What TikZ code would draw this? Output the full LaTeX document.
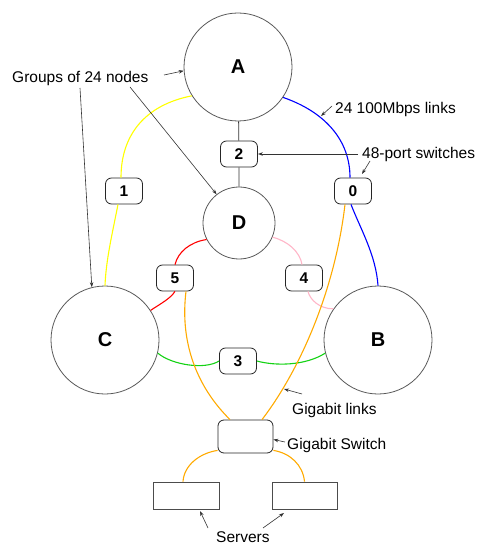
\documentclass[tikz,border=0pt]{standalone}
\usepackage{fontspec}
\setmainfont{Liberation Sans}
\usetikzlibrary{arrows.meta}
\definecolor{lpink}{RGB}{255,182,200}
\definecolor{lgreen}{RGB}{20,210,20}
\definecolor{lorange}{RGB}{255,170,0}
\definecolor{lyellow}{RGB}{255,255,0}
\begin{document}
\begin{tikzpicture}[x=1pt,y=-1pt,
  grp/.style={circle,draw=black!65,line width=0.8pt,inner sep=0pt,font=\fontsize{20}{24}\selectfont\bfseries},
  swbox/.style={rectangle,rounded corners=6pt,draw=black!85,line width=0.8pt,minimum width=37pt,minimum height=26pt,inner sep=0pt,font=\fontsize{15.5}{18}\selectfont\bfseries},
  srv/.style={rectangle,draw=black!70,line width=0.8pt,minimum height=27pt,inner sep=0pt},
  link/.style={line width=1.1pt},
  lbl/.style={anchor=base west,inner sep=0pt,font=\fontsize{15.5}{18}\selectfont},
  arr/.style={draw=black!80,line width=0.6pt,-{Stealth[length=5pt,width=3.5pt]}}]
\useasboundingbox (0,0) rectangle (482,545);
% groups
\node[grp,minimum size=108pt] (A) at (238,67) {A};
\node[grp,minimum size=72pt] (D) at (239,223) {D};
\node[grp,minimum size=108pt] (C) at (105,340) {C};
\node[grp,minimum size=108pt] (B) at (378,340) {B};
% switches
\node[swbox] (b0) at (353,191) {0};
\node[swbox] (b1) at (124,191) {1};
\node[swbox] (b2) at (239,154) {2};
\node[swbox] (b3) at (238,361) {3};
\node[swbox] (b4) at (304,278) {4};
\node[swbox] (b5) at (175,278) {5};
\node[swbox,minimum width=55pt,minimum height=33pt] (sw) at (245.5,436.5) {};
\node[srv,minimum width=66pt] (s1) at (186,495.5) {};
\node[srv,minimum width=65pt] (s2) at (304.5,495.5) {};
% links
\draw[link,black!80,line width=0.8pt] (A) -- (b2) -- (D);
\draw[link,lyellow] (A.212) .. controls (145,105) and (121,135) .. ([xshift=-3pt]b1.north);
\draw[link,lyellow] ([xshift=-6pt]b1.south) .. controls (112,235) and (106,260) .. (C.north);
\draw[link,blue] (A.-34) .. controls (325,112) and (350,140) .. ([xshift=-3pt]b0.north);
\draw[link,blue] ([xshift=-2pt]b0.south) .. controls (360,228) and (376,255) .. (B.north);
\draw[link,red] (D.207) .. controls (190,242) and (178,252) .. (b5.north);
\draw[link,red] (b5.south) .. controls (170,299) and (160,304) .. (C.33);
\draw[link,lpink] (D.-23) .. controls (288,241) and (300,252) .. ([xshift=-2pt]b4.north);
\draw[link,lpink] ([xshift=4pt]b4.south) .. controls (310,300) and (320,309) .. (B.145);
\draw[link,lgreen] (C.-14) .. controls (172,365) and (205,370) .. (b3.west);
\draw[link,lgreen] (b3.east) .. controls (275,366) and (305,366) .. (B.194);
\draw[link,lorange] ([xshift=11pt]b5.south) .. controls (180,340) and (195,385) .. ([xshift=-15.5pt]sw.north);
\draw[link,lorange] ([xshift=-8pt]b0.south) .. controls (335,290) and (300,370) .. ([xshift=16.5pt]sw.north);
\draw[link,lorange] ([yshift=3pt]sw.south west) .. controls (200,453) and (184,465) .. ([xshift=-3pt]s1.north);
\draw[link,lorange] ([yshift=3pt]sw.south east) .. controls (290,453) and (303,465) .. (s2.north);
% labels
\node[lbl] (lg) at (12,83) {Groups of 24 nodes};
\node[lbl] (lm) at (335,113.3) {24 100Mbps links};
\node[lbl] (lp) at (362,158.3) {48-port switches};
\node[lbl] (ll) at (292,414.3) {Gigabit links};
\node[lbl] (ls) at (287,449) {Gigabit Switch};
\node[lbl] (lv) at (216,542.8) {Servers};
% annotation arrows
\coordinate (tA) at (164,75);
\coordinate (tD) at (130,87);
\coordinate (tC) at (80,88);
\coordinate (tM) at (332,106);
\coordinate (hM) at (321,116);
\coordinate (tP) at (358,154);
\coordinate (tP2) at (370,161);
\coordinate (hP2) at (362,174);
\coordinate (tL) at (302,394);
\coordinate (hL) at (284,389);
\coordinate (tS) at (285,442);
\coordinate (tV1) at (208,528);
\coordinate (hV1) at (200,511);
\coordinate (tV2) at (263,528);
\coordinate (hV2) at (284,513);
\draw[arr] (tA) -- (A.184);
\draw[arr] (tD) -- (D.128);
\draw[arr] (tC) -- (C.104);
\draw[arr] (tM) -- (hM);
\draw[arr] (tP) -- (b2.east);
\draw[arr] (tP2) -- (hP2);
\draw[arr] (tL) -- (hL);
\draw[arr] (tS) -- ([yshift=-3pt]sw.east);
\draw[arr] (tV1) -- (hV1);
\draw[arr] (tV2) -- (hV2);
\end{tikzpicture}
\end{document}
